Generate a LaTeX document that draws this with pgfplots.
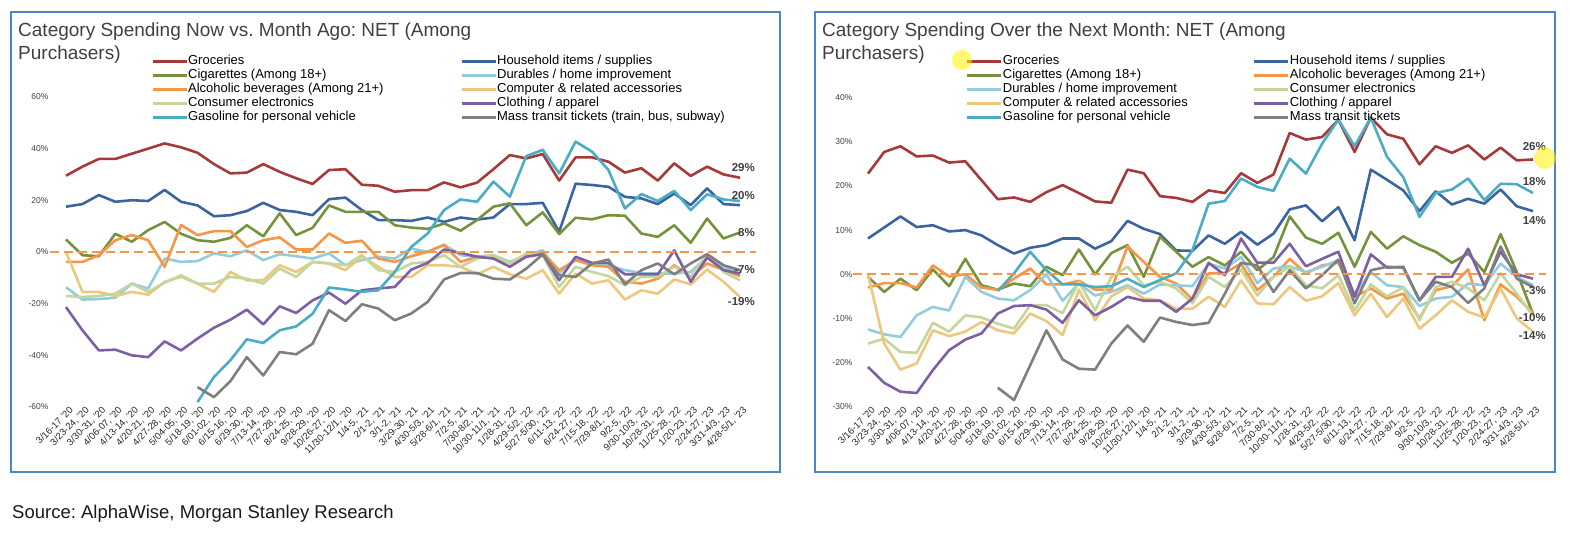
\documentclass[border=0pt]{standalone}
\usepackage{fontspec}
\setmainfont{Liberation Sans}
\usepackage{pgfplots}
\pgfplotsset{compat=1.18}
\usepackage{pgfplotstable}
\frenchspacing

\definecolor{cGro}{HTML}{A63A3A}
\definecolor{cHH}{HTML}{3B64A0}
\definecolor{cCig}{HTML}{76923C}
\definecolor{cDur}{HTML}{93CDDD}
\definecolor{cAlc}{HTML}{F79646}
\definecolor{cComp}{HTML}{EDC77D}
\definecolor{cElec}{HTML}{C3D69B}
\definecolor{cCloth}{HTML}{7D5FA5}
\definecolor{cGas}{HTML}{4BACC6}
\definecolor{cMass}{HTML}{7F7F7F}
\definecolor{cBorder}{HTML}{4A86C5}
\definecolor{cTxt}{HTML}{404040}

\pgfplotstableread{
x gro hh cig dur alc comp elec cloth gas mass
0 29.5 17.5 4.8 -13.7 -3.9 0 -17.1 -21.4 nan nan
1 33 18.5 -1.3 -18.5 -3.9 -15.5 -17.5 -30.4 nan nan
2 36 22 -1.7 -18.3 -1.3 -15.5 -17.1 -38.2 nan nan
3 36 19.4 7 -17.8 4.5 -17.2 -16.2 -37.9 nan nan
4 38 20 3.9 -12.3 6.5 -15.5 -12.3 -40.1 nan nan
5 40 19.7 8.4 -14.2 4.5 -16.6 -15.5 -40.8 nan nan
6 42 24 11.6 -2.6 -5.8 -11.6 -12 -34.7 nan nan
7 40.5 19.4 7 -3.9 10.4 -9.7 -9.1 -38.2 nan nan
8 38.4 18 4.5 -3.6 6.5 -12.3 -12.3 -33.6 -58.2 -52.4
9 34 13.8 3.9 -0.6 8 -15.5 -12.3 -29.4 -48.5 -56.3
10 30.4 14.2 5.4 -1.7 8 -7.8 -9.7 -26.3 -42 -50.1
11 30.7 15.8 10.3 0.6 1.9 -11 -10.4 -22.4 -33.9 -40.8
12 34 19 6 -3.2 4.5 -11 -12.3 -28.1 -35.3 -47.9
13 31 16.2 14.9 -0.9 5.6 -5.2 -6.5 -21.1 -30.4 -38.8
14 28.5 15.5 6.5 -1.7 0.9 -7.8 -9.7 -23.7 -28.9 -39.7
15 26.3 14.2 9.3 -2.6 0.9 -3.9 -3.9 -18.8 -24 -35.6
16 31.7 20.4 18 -0.6 7.1 -4.5 -4.5 -15.8 -13.8 -22.6
17 32 21 15.5 -5.2 3.5 -7.1 -5.2 -20.1 -14.6 -26.8
18 26 16.2 15.5 -3.2 4.3 -1.7 -1.3 -14.9 -15.5 -20.3
19 25.6 12.3 15.5 -1.9 -2.6 -5.8 -7.1 -14.2 -14.9 -22
20 23.3 12.3 10.3 -2.6 -3.9 -9.7 -7.8 -13.6 -7.8 -26.5
21 23.9 12.0 9.4 1.3 -1.7 -9.7 -4.5 -6.9 1.9 -23.9
22 23.9 13.3 8.9 0 0 -5.2 -3.9 -4.3 7.1 -19.4
23 26.9 11.6 11.0 2.8 2.6 -5.2 -1.3 0.9 16.2 -10.7
24 25 13.3 8.2 -1.3 -3.9 -5.8 -5.8 -0.4 20.3 -8.2
25 26.8 12.5 12.3 -1.9 -1.9 -8.7 -2.6 -1.9 19.4 -8.2
26 32 13.3 17.5 -1.3 -2.3 -5.8 -1.3 -2.6 27.2 -10.4
27 37.5 18.5 18.8 -3.9 -4.3 -8.7 -4.5 -5.8 21.4 -10.7
28 36.2 18.5 10.3 -1.3 -1.7 -10.4 -0.6 -1.9 37.1 -6.5
29 37.9 19.0 15.3 0.6 -0.4 -7.1 -1.3 -0.9 39.5 -1
30 27.6 7.8 6.9 -8.2 -7.1 -16.2 -13.6 -11 30.4 -9.1
31 36.6 26.4 13.2 -3 -3.2 -8.4 -5.8 -1.9 42.7 -9.7
32 36.6 25.9 12.6 -4.5 -5.2 -12.3 -7.8 -4.3 38.8 -4.5
33 34.9 25.2 14.2 -5.2 -5.8 -11 -9.4 -4.3 31.7 -3
34 30.7 21.3 14.0 -7.1 -11.6 -18.5 -12.9 -8.7 16.8 -12.6
35 32.4 20.7 7.1 -8.2 -12.3 -14.9 -9.7 -8.7 22.4 -7.1
36 27.6 18.5 5.8 -8.4 -10.4 -16.2 -9.7 -8.7 19.7 -4.5
37 34.3 22.6 10.3 -8.4 -5.2 -10.7 -5.8 0.6 23.6 -8.7
38 29.4 18.1 3.5 -7.8 -9.7 -12.6 -9.7 -11.6 16.2 -4.5
39 33 24.6 12.9 -1.9 -4.5 -6.9 -1.3 -2.2 22.3 -0.9
40 30 18.5 5.2 -5.8 -7.1 -11.6 -7.8 -7.1 20.3 -5.2
41 28.7 18.1 7.5 -8.4 -9.4 -17.5 -11 -8.4 19.7 -7.1
}\leftdata

\pgfplotstableread{
x gro hh cig alc dur elec comp cloth gas mass
0 22.8 8.1 -0.6 -3 -12.5 -15.7 0 -21 nan nan
1 27.7 10.6 -4 -2 -13.6 -14.6 -15.7 -24.6 nan nan
2 29 13.1 -1 -2 -14.2 -17.6 -21.6 -26.6 nan nan
3 26.7 10.7 -3.6 -3 -9.3 -17.8 -20.2 -26.9 nan nan
4 26.9 11.1 1.1 2 -7.4 -11 -12.7 -21.7 nan nan
5 25.3 9.7 -2.7 -0.5 -8.2 -13 -14.0 -17.2 nan nan
6 25.6 10 3.5 0 -0.6 -9.3 -13.0 -14.8 nan nan
7 21.3 8.8 -2.5 -3 -4 -9.8 -10.8 -13.4 nan nan
8 17 6.6 -3.5 -3.5 -5.5 -11.2 -12.7 -8.9 -3.8 -25.7
9 17.4 4.7 -2.1 -1 -5.9 -12.3 -13.4 -7.2 0.2 -28.5
10 16.4 6 -2.7 1.3 -3.6 -7 -8.9 -7 5.1 -20.6
11 18.6 6.6 1.7 -2.3 0 -7 -10.6 -8 0.9 -12.7
12 20.2 8.1 -0.2 -2.3 -6 -8.8 -13.8 -11 -2.3 -19.3
13 18.4 8.1 5.6 -1.5 -2.1 -1.7 -3.5 -5.9 -2.3 -21.4
14 16.5 5.8 0 -3.5 -4.8 -8.2 -10.4 -9.3 -2.9 -21.6
15 16.2 7.5 4.8 -3.5 -4 -0.6 -5.0 -7.4 -2.7 -15.7
16 23.7 12.1 6.6 6.3 -2.5 1.7 -2.9 -5.1 -1 -11.6
17 22.9 10.3 -0.6 2.8 -4.4 -2.5 -5.5 -6 -2.9 -15.3
18 17.7 9.1 8.5 -0.6 -2.3 -1.7 -5.9 -6 -1.3 -9.8
19 17.3 5.4 5.1 -2.1 -2.5 -3.2 -7.8 -8.5 0.2 -10.8
20 16.4 5.3 1.7 -5.7 -2.7 -6.6 -7.8 -5.5 5.4 -11.5
21 19 8.8 3.9 0.2 2.4 -0.6 -5.1 2.6 16 -11
22 18.4 6.9 2 0.3 1.3 -2.9 -7.4 -0.2 16.6 -4.4
23 22.9 9.6 5.1 2.4 3.9 1.1 -1.4 8.1 21.7 2.6
24 20.7 6.7 0.9 -3.6 -2 -4.8 -6.6 2.6 19.8 2
25 22.6 9.2 3.9 -0.6 1.3 -0.6 -6.8 2.6 18.9 -4
26 32 14.7 13.1 3.5 1.8 1.7 -2.9 6.9 26.2 0.9
27 30.5 15.6 8.3 0.2 0.5 -2.5 -6 1.8 22.8 -3.2
28 31.1 12 6.9 2 1.7 -3.2 -5 3.5 29.6 -0.2
29 35 15.2 9.4 2.6 3.2 -0.2 -2 5.1 35 3.3
30 27.7 7.7 1.7 -5.1 -4.4 -8.2 -9.3 -5.1 29 -6.6
31 35.5 23.7 9.6 -3.2 0.5 -2.3 -4.4 4.5 35.5 0.9
32 31.7 21.4 5.8 -5.5 -2.5 -5 -9.7 1.5 26.6 1.7
33 30.7 19 8.6 -4.4 -2.9 -3 -5.5 1.7 22 1.5
34 24.9 14.3 6.6 -10 -7.2 -10.4 -12.3 -5.9 13 -5.9
35 29 18.8 5.1 -3.6 -5.5 -2.9 -9.3 -0.6 18.4 -1.7
36 27.5 15.8 2.6 -2.7 -5.1 -1.7 -5.9 -0.6 19.2 -2.9
37 29.2 17.1 4.7 1.1 -2.1 -3.2 -8.5 5.8 21.7 -6.5
38 26 16 0.5 -10.4 -2.5 -5.9 -9.8 -2.5 16.8 -3.2
39 28.7 19.2 9.1 -2.3 2.4 0.2 -3.2 5.1 20.5 6.3
40 25.8 15.4 0.5 -5.1 -0.6 -4.4 -10 0 20.4 -1
41 26 14.3 -9 -8.8 -2.5 -9.5 -13 -1 18.4 -2.9
}\rightdata

\pgfplotsset{
  panel/.style={
    scale only axis,
    xmin=0, xmax=41,
    axis line style={draw=none},
    tick style={draw=none},
    major tick length=0pt,
    xtick={0,...,41},
    xticklabels={{3/16-17 '20},{3/23-24, '20},{3/30-31, '20},{4/06-07, '20},{4/13-14, '20},{4/20-21, '20},{4/27-28, '20},{5/04-05, '20},{5/18-19, '20},{6/01-02, '20},{6/15-16, '20},{6/29-30, '20},{7/13-14, '20},{7/27-28, '20},{8/24-25, '20},{9/28-29, '20},{10/26-27, '20},{11/30-12/1, '20},{1/4-5, '21},{2/1-2, '21},{3/1-2, '21},{3/29-30, '21},{4/30-5/3, '21},{5/28-6/1, '21},{7/2-5, '21},{7/30-8/2, '21},{10/30-11/1, '21},{1/28-31, '22},{4/29-5/2, '22},{5/27-5/30, '22},{6/11-13, '22},{6/24-27, '22},{7/15-18, '22},{7/29-8/1, '22},{9/2-5, '22},{9/30-10/3, '22},{10/28-31, '22},{11/25-28, '22},{1/20-23, '23},{2/24-27, '23},{3/31-4/3, '23},{4/28-5/1, '23}},
    xticklabel style={font=\fontsize{9.5}{9.5}\selectfont, rotate=45, anchor=east, inner sep=0.5pt, text=black!85, xshift=3pt, yshift=-5pt},
    yticklabel style={font=\fontsize{8.5}{9}\selectfont, text=cTxt},
    every axis plot/.append style={line width=2.6pt, line join=round},
    legend columns=2,
    legend cell align=left,
    legend image code/.code={\draw[##1, line width=3pt] (0pt,0pt) -- (34pt,0pt);},
    legend style={draw=none, fill=none, anchor=north west, font=\fontsize{13}{13}\selectfont, inner sep=0pt, row sep=0pt, nodes={inner sep=0pt, text height=10pt, text depth=4pt}},
    unbounded coords=jump,
    clip=false,
  }
}

\begin{document}
\begin{tikzpicture}[x=1pt,y=1pt]
\path (0,0) rectangle (1570,534);
\draw[cBorder, line width=2pt] (11,62) rectangle (780,522);
\draw[cBorder, line width=2pt] (815,62) rectangle (1555,522);

% Left panel
\node[anchor=base west, font=\fontsize{19}{19}\selectfont, text=cTxt, inner sep=0] at (18,497) {Category Spending Now vs. Month Ago: NET (Among};
\node[anchor=base west, font=\fontsize{19}{19}\selectfont, text=cTxt, inner sep=0] at (18,474) {Purchasers)};

\begin{axis}[panel, at={(66pt,127.3pt)}, anchor=south west, width=674pt, height=309.7pt,
  ymin=-60, ymax=60, ytick={-60,-40,-20,0,20,40,60},
  yticklabels={-60\%,-40\%,-20\%,0\%,20\%,40\%,60\%},
  yticklabel style={xshift=-14pt},
  legend style={at={(0.126,1.139)}}]
\addplot[cGro] table[x=x,y=gro]{\leftdata};
\addplot[cHH] table[x=x,y=hh]{\leftdata};
\addplot[cCig] table[x=x,y=cig]{\leftdata};
\addplot[cDur] table[x=x,y=dur]{\leftdata};
\addplot[cAlc] table[x=x,y=alc]{\leftdata};
\addplot[cComp] table[x=x,y=comp]{\leftdata};
\addplot[cElec] table[x=x,y=elec]{\leftdata};
\addplot[cCloth] table[x=x,y=cloth]{\leftdata};
\addplot[cGas] table[x=x,y=gas]{\leftdata};
\addplot[cMass] table[x=x,y=mass]{\leftdata};
\addplot[cAlc, line width=2pt, dash pattern=on 9pt off 5pt, forget plot] coordinates {(-0.95,0) (42,0)};
\legend{\makebox[272pt][l]{Groceries}, Household items / supplies,
  \makebox[272pt][l]{Cigarettes (Among 18+)}, Durables / home improvement,
  \makebox[272pt][l]{Alcoholic beverages (Among 21+)}, Computer \& related accessories,
  \makebox[272pt][l]{Consumer electronics}, Clothing / apparel,
  \makebox[272pt][l]{Gasoline for personal vehicle}, {Mass transit tickets (train, bus, subway)}}
\end{axis}

\begin{scope}[every node/.style={anchor=east, font=\bfseries\fontsize{11.5}{12}\selectfont, text=cTxt, inner sep=0}]
\node at (755,366) {29\%};
\node at (755,338) {20\%};
\node at (755,301) {8\%};
\node at (755,264) {-7\%};
\node at (755,232) {-19\%};
\end{scope}

% Right panel
\node[anchor=base west, font=\fontsize{19}{19}\selectfont, text=cTxt, inner sep=0] at (822,497) {Category Spending Over the Next Month: NET (Among};
\node[anchor=base west, font=\fontsize{19}{19}\selectfont, text=cTxt, inner sep=0] at (822,474) {Purchasers)};

\begin{axis}[panel, at={(868pt,127.3pt)}, anchor=south west, width=665pt, height=309pt,
  ymin=-30, ymax=40, ytick={-30,-20,-10,0,10,20,30,40},
  yticklabels={-30\%,-20\%,-10\%,0\%,10\%,20\%,30\%,40\%},
  yticklabel style={xshift=-12pt},
  legend style={at={(0.147,1.142)}}]
\addplot[cGro] table[x=x,y=gro]{\rightdata};
\addplot[cHH] table[x=x,y=hh]{\rightdata};
\addplot[cCig] table[x=x,y=cig]{\rightdata};
\addplot[cAlc] table[x=x,y=alc]{\rightdata};
\addplot[cDur] table[x=x,y=dur]{\rightdata};
\addplot[cElec] table[x=x,y=elec]{\rightdata};
\addplot[cComp] table[x=x,y=comp]{\rightdata};
\addplot[cCloth] table[x=x,y=cloth]{\rightdata};
\addplot[cGas] table[x=x,y=gas]{\rightdata};
\addplot[cMass] table[x=x,y=mass]{\rightdata};
\addplot[cAlc, line width=2pt, dash pattern=on 9pt off 5pt, forget plot] coordinates {(-0.93,0) (41.8,0)};
\legend{\makebox[250pt][l]{Groceries}, Household items / supplies,
  \makebox[250pt][l]{Cigarettes (Among 18+)}, Alcoholic beverages (Among 21+),
  \makebox[250pt][l]{Durables / home improvement}, Consumer electronics,
  \makebox[250pt][l]{Computer \& related accessories}, Clothing / apparel,
  \makebox[250pt][l]{Gasoline for personal vehicle}, Mass transit tickets}
\end{axis}

\begin{scope}[every node/.style={anchor=east, font=\bfseries\fontsize{11.5}{12}\selectfont, text=cTxt, inner sep=0}]
\node at (1546,387) {26\%};
\node at (1546,352) {18\%};
\node at (1546,313) {14\%};
\node at (1546,243) {-3\%};
\node at (1546,216) {-10\%};
\node at (1546,198) {-14\%};
\end{scope}

\fill[yellow, opacity=0.55] (962,474) circle (10);
\fill[yellow, opacity=0.55] (1545,376) circle (11);

\node[anchor=base west, font=\fontsize{18.5}{18.5}\selectfont, text=black!90, inner sep=0] at (12,15) {Source: AlphaWise, Morgan Stanley Research};
\end{tikzpicture}
\end{document}
